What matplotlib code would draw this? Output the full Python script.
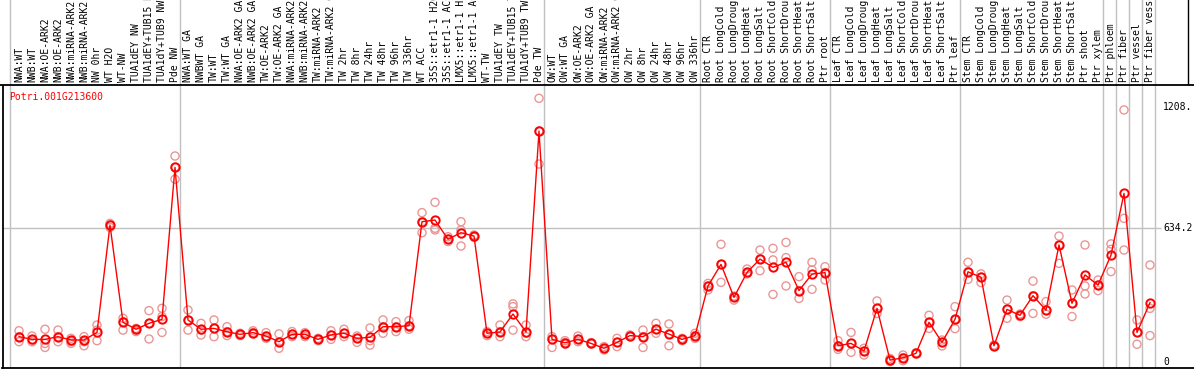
import matplotlib
matplotlib.use("Agg")
import matplotlib.pyplot as plt
import numpy as np

# ── Data ─────────────────────────────────────────────────────────────────────
gene = "Potri.001G213600"

samples = [
    "NWA:WT", "NWB:WT", "NWA:OE-ARK2", "NWB:OE-ARK2", "NWA:miRNA-ARK2",
    "NWB:miRNA-ARK2", "NW 0hr", "WT H2O", "WT-NW", "TUA1dEY NW",
    "TUA1dEY+TUB15 NW", "TUA1dY+TUB9 NW", "Pde NW",
    "NWA:WT GA", "NWBWT GA", "TW:WT", "TW:WT GA", "NWA:OE-ARK2 GA",
    "NWB:OE-ARK2 GA", "TW:OE-ARK2", "TW:OE-ARK2 GA", "NWA:miRNA-ARK2 GA",
    "NWB:miRNA-ARK2 GA", "TW:miRNA-ARK2", "TW:miRNA-ARK2 GA", "TW 2hr",
    "TW 8hr", "TW 24hr", "TW 48hr", "TW 96hr", "TW 336hr", "WT ACC",
    "35S::etr1-1 H2O", "35S::etr1-1 ACC", "LMX5::etr1-1 H2O",
    "LMX5::etr1-1 ACC", "WT-TW", "TUA1dEY TW", "TUA1dEY+TUB15 TW",
    "TUA1dY+TUB9 TW", "Pde TW",
    "OW:WT", "OW:WT GA", "OW:OE-ARK2", "OW:OE-ARK2 GA", "OW:miRNA-ARK2",
    "OW:miRNA-ARK2 GA", "OW 2hr", "OW 8hr", "OW 24hr", "OW 48hr", "OW 96hr",
    "OW 336hr",
    "Root CTR", "Root LongCold", "Root LongDrought", "Root LongHeat",
    "Root LongSalt", "Root ShortCold", "Root ShortDrought", "Root ShortHeat",
    "Root ShortSalt", "Ptr root",
    "Leaf CTR", "Leaf LongCold", "Leaf LongDrought", "Leaf LongHeat",
    "Leaf LongSalt", "Leaf ShortCold", "Leaf ShortDrought", "Leaf ShortHeat",
    "Leaf ShortSalt", "Ptr leaf",
    "Stem CTR", "Stem LongCold", "Stem LongDrought", "Stem LongHeat",
    "Stem LongSalt", "Stem ShortCold", "Stem ShortDrought", "Stem ShortHeat",
    "Stem ShortSalt", "Ptr shoot", "Ptr xylem",
    "Ptr phloem", "Ptr fiber", "Ptr vessel", "Ptr fiber vessel",
]

means = [
    120, 107, 107, 120, 104, 104, 140, 648, 188, 155, 183, 202, 921,
    199, 155, 159, 143, 131, 139, 123, 96, 131, 131, 107, 128, 136, 112,
    117, 167, 167, 172, 664, 672, 581, 612, 596, 136, 142, 227, 142, 1093,
    107, 91, 107, 88, 65, 93, 125, 120, 155, 132, 107, 125,
    360, 462, 306, 424, 487, 448, 472, 338, 416, 423,
    77, 88, 52, 254, 9, 20, 41, 188, 93, 202,
    427, 401, 77, 249, 221, 314, 245, 554, 278, 412, 364,
    506, 798, 140, 281,
]

replicates = [
    (148, 120, 96), (123, 104, 96), (155, 88, 69), (151, 120, 96),
    (112, 96, 88), (120, 96, 77), (175, 151, 101), (656, 649, 637),
    (207, 191, 151), (159, 151, 144), (243, 183, 109), (254, 215, 140),
    (975, 922, 865),
    (246, 199, 151), (183, 151, 128), (199, 159, 120), (167, 144, 125),
    (136, 131, 125), (148, 139, 133), (139, 123, 112), (133, 96, 65),
    (144, 131, 120), (139, 131, 120), (112, 107, 101), (148, 128, 107),
    (155, 136, 120), (123, 112, 93), (161, 101, 80), (199, 167, 136),
    (191, 167, 144), (196, 172, 155), (707, 664, 612), (756, 633, 625),
    (593, 581, 570), (664, 625, 549), (601, 596, 590), (144, 136, 125),
    (175, 144, 120), (275, 262, 151), (175, 136, 120), (1248, 1094, 937),
    (120, 107, 69), (101, 92, 85), (123, 107, 96), (92, 88, 85),
    (73, 65, 57), (112, 93, 73), (128, 125, 120), (151, 120, 69),
    (183, 155, 136), (180, 133, 77), (112, 107, 101), (136, 125, 112),
    (372, 360, 341), (557, 462, 377), (312, 306, 293), (440, 424, 417),
    (530, 488, 432), (538, 483, 320), (566, 494, 360), (404, 338, 301),
    (472, 436, 344), (451, 423, 388),
    (101, 77, 60), (140, 88, 46), (65, 52, 33), (289, 254, 230),
    (17, 9, 2), (33, 21, 6), (44, 41, 38), (221, 188, 159),
    (104, 93, 76), (262, 202, 158),
    (472, 428, 391), (417, 401, 376), (80, 77, 73), (293, 249, 207),
    (227, 221, 215), (383, 314, 230), (286, 245, 226), (596, 554, 467),
    (341, 278, 215), (554, 360, 322), (388, 364, 338),
    (559, 533, 428), (1193, 680, 530), (199, 140, 84), (459, 254, 125),
]

# last sample index of each group (separators drawn just after them)
group_ends = [12, 40, 52, 62, 72, 83, 84, 85, 86, 87]

y_ticks = [0, 634.2, 1208]
y_tick_labels = ["0", "634.2", "1208."]

# ── Layout (pixel geometry of the reference) ─────────────────────────────────
W, H = 1194, 370
DPI = 100
X0_PX, STEP_PX = 19, 13          # pixel of first sample, spacing
Y0_PX, PX_PER_UNIT = 362, 0.21128
LEFT_PX, HEADER_PX, BOTTOM_PX = 2.5, 85, 368

RED = "#ff0000"
PINK = "#eb9696"
GRID = "#c0c0c0"
FONT = "DejaVu Sans Mono"


def px_to_idx(px):
    return (px - X0_PX) / STEP_PX


def py_to_val(py):
    return (Y0_PX - py) / PX_PER_UNIT


fig = plt.figure(figsize=(W / DPI, H / DPI), dpi=DPI)
fig.patch.set_facecolor("white")

xlim = (px_to_idx(LEFT_PX), px_to_idx(W))
ax = fig.add_axes([LEFT_PX / W, (H - BOTTOM_PX) / H, (W - LEFT_PX) / W,
                   (BOTTOM_PX - HEADER_PX) / H])
hdr = fig.add_axes([0, (H - HEADER_PX) / H, 1, HEADER_PX / H])

ax.set_xlim(*xlim)
ax.set_ylim(py_to_val(BOTTOM_PX), py_to_val(HEADER_PX))
hdr.set_xlim(px_to_idx(0), px_to_idx(W))
hdr.set_ylim(0, 1)

for a in (ax, hdr):
    a.set_xticks([])
    a.set_yticks([])
for s in ("left", "bottom"):
    ax.spines[s].set_color("black")
    ax.spines[s].set_linewidth(1.3)
ax.spines["right"].set_visible(False)
ax.spines["top"].set_visible(False)
for s in ("left", "right", "top"):
    hdr.spines[s].set_visible(False)
hdr.spines["bottom"].set_linewidth(1.3)

# separators
seps = [-0.7] + [e + 0.38 for e in group_ends]
for xs in seps:
    ax.axvline(xs, color=GRID, lw=1.0, zorder=0)
    hdr.axvline(xs, color=GRID, lw=1.0, zorder=0)
hdr.axvline(px_to_idx(1188), color="black", lw=1.0)

# horizontal grid line and right-side labels
ax.hlines(634.2, xlim[0], px_to_idx(1161), color=GRID, lw=1.0, zorder=0)
for v, lab in zip(y_ticks, y_tick_labels):
    ax.text(px_to_idx(1163), v, lab, ha="left", va="center",
            fontsize=7, family=FONT, color="black")

# data
x = np.arange(len(samples))
rep = np.array(replicates)
ax.scatter(np.repeat(x, rep.shape[1]), rep.ravel(), s=34, facecolors="none",
           edgecolors=PINK, linewidths=1.0, zorder=2)
ax.plot(x, means, color=RED, lw=1.0, zorder=3)
ax.plot(x, means, "o", ms=6, mfc="none", mec=RED, mew=1.4, zorder=4)

ax.text(px_to_idx(9), py_to_val(97), gene, ha="left", va="center",
        fontsize=7, family=FONT, color=RED)

# rotated sample labels in the header (long ones run off the top, as in the
# reference)
for i, lab in enumerate(samples):
    hdr.text(i, 3 / HEADER_PX, lab, rotation=90, ha="center", va="bottom",
             fontsize=7, family=FONT, color="black")

fig.savefig("out.png", dpi=DPI)
